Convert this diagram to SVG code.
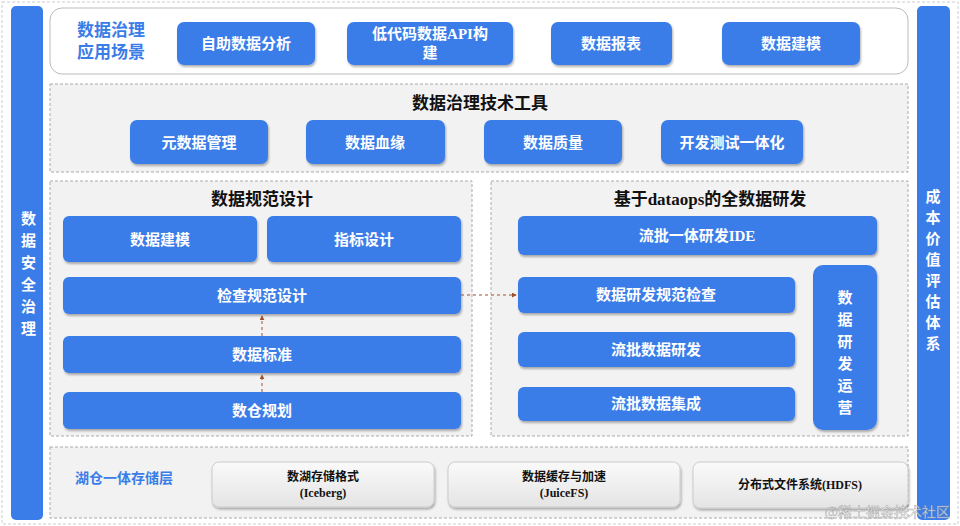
<svg xmlns="http://www.w3.org/2000/svg" width="960" height="526" viewBox="0 0 960 526">
<defs>
<style>
.b{fill:#3b7de8;}
.n rect{fill:#3b7de8;filter:url(#sh);}
.t{font-family:"Liberation Serif","Noto Sans CJK SC",serif;font-weight:bold;font-size:15px;fill:#fff;text-anchor:middle;dominant-baseline:central;}
.h{font-family:"Liberation Serif","Noto Sans CJK SC",serif;font-weight:bold;font-size:17px;fill:#111;text-anchor:middle;dominant-baseline:central;}
.sec{fill:#f2f2f2;stroke:#aaa;stroke-dasharray:3 2;}
.g rect{fill:url(#gg);stroke:#ccc;filter:url(#sh);}
.gt{font-family:"Liberation Serif","Noto Sans CJK SC",serif;font-weight:bold;font-size:12px;fill:#111;text-anchor:middle;}
.c{stroke:#a0522d;stroke-width:1;stroke-dasharray:3 3;fill:none;marker-end:url(#ar);}
</style>
<filter id="sh" x="-10%" y="-10%" width="120%" height="130%"><feDropShadow dx="1" dy="2" stdDeviation="1.2" flood-color="#000" flood-opacity="0.3"/></filter>
<linearGradient id="gg" x1="0" y1="0" x2="0" y2="1"><stop offset="0" stop-color="#fafafa"/><stop offset="1" stop-color="#e4e4e4"/></linearGradient>
<marker id="ar" viewBox="0 0 6 6" refX="5" refY="3" markerWidth="5" markerHeight="5" orient="auto"><path d="M0,0L6,3L0,6z" fill="#a0522d"/></marker>
</defs>
<rect x="0" y="0" width="960" height="526" fill="#fff"/>
<rect x="2" y="2" width="956" height="522" fill="none" stroke="#ccc" stroke-dasharray="3 2"/>
<g id="left-bar"><rect class="b" x="11" y="6" width="32" height="514" rx="5"/>
<text class="t" x="27" y="263" style="writing-mode:tb" ><tspan x="27" y="218">数</tspan><tspan x="27" y="240">据</tspan><tspan x="27" y="262">安</tspan><tspan x="27" y="284">全</tspan><tspan x="27" y="306">治</tspan><tspan x="27" y="328">理</tspan></text></g>
<g id="right-bar"><rect class="b" x="917" y="6" width="33" height="514" rx="5"/>
<text class="t" font-size="14"><tspan x="933" y="197">成</tspan><tspan x="933" y="218">本</tspan><tspan x="933" y="239">价</tspan><tspan x="933" y="260">值</tspan><tspan x="933" y="281">评</tspan><tspan x="933" y="302">估</tspan><tspan x="933" y="323">体</tspan><tspan x="933" y="344">系</tspan></text></g>
<g id="app">
<rect x="50" y="8" width="858" height="66" rx="12" fill="#fff" stroke="#bbb"/>
<text class="h" style="fill:#3b7de8" x="111" y="30">数据治理</text>
<text class="h" style="fill:#3b7de8" x="111" y="52">应用场景</text>
<g class="n"><rect x="177" y="22" width="138" height="43" rx="7"/><text class="t" x="246" y="44">自助数据分析</text></g>
<g class="n"><rect x="347" y="22" width="166" height="43" rx="7"/><text class="t" x="430" y="34">低代码数据API构</text><text class="t" x="430" y="53">建</text></g>
<g class="n"><rect x="551" y="22" width="121" height="43" rx="7"/><text class="t" x="611" y="44">数据报表</text></g>
<g class="n"><rect x="722" y="22" width="138" height="43" rx="7"/><text class="t" x="791" y="44">数据建模</text></g>
</g>
<g id="tools">
<rect class="sec" x="50" y="84" width="858" height="88"/>
<text class="h" x="480" y="103">数据治理技术工具</text>
<g class="n"><rect x="130" y="120" width="138" height="44" rx="7"/><text class="t" x="199" y="143">元数据管理</text></g>
<g class="n"><rect x="306" y="120" width="139" height="44" rx="7"/><text class="t" x="375" y="143">数据血缘</text></g>
<g class="n"><rect x="484" y="120" width="138" height="44" rx="7"/><text class="t" x="553" y="143">数据质量</text></g>
<g class="n"><rect x="661" y="120" width="142" height="44" rx="7"/><text class="t" x="732" y="143">开发测试一体化</text></g>
</g>
<g id="spec">
<rect class="sec" x="50" y="181" width="422" height="255"/>
<text class="h" x="262" y="199">数据规范设计</text>
<g class="n"><rect x="63" y="216" width="194" height="46" rx="6"/><text class="t" x="160" y="240">数据建模</text></g>
<g class="n"><rect x="267" y="216" width="194" height="46" rx="6"/><text class="t" x="364" y="240">指标设计</text></g>
<g class="n"><rect x="63" y="277" width="398" height="37" rx="6"/><text class="t" x="262" y="296">检查规范设计</text></g>
<g class="n"><rect x="63" y="336" width="398" height="37" rx="6"/><text class="t" x="262" y="355">数据标准</text></g>
<g class="n"><rect x="63" y="392" width="398" height="37" rx="6"/><text class="t" x="262" y="411">数仓规划</text></g>
</g>
<g id="dev">
<rect class="sec" x="491" y="181" width="417" height="255"/>
<text class="h" x="710" y="199">基于dataops的全数据研发</text>
<g class="n"><rect x="518" y="216" width="359" height="39" rx="6"/><text class="t" x="697" y="236">流批一体研发IDE</text></g>
<g class="n"><rect x="518" y="277" width="277" height="36" rx="6"/><text class="t" x="656" y="295">数据研发规范检查</text></g>
<g class="n"><rect x="518" y="332" width="277" height="35" rx="6"/><text class="t" x="656" y="350">流批数据研发</text></g>
<g class="n"><rect x="518" y="387" width="277" height="34" rx="6"/><text class="t" x="656" y="404">流批数据集成</text></g>
<g class="n"><rect x="813" y="265" width="64" height="165" rx="10"/><text class="t"><tspan x="845" y="298">数</tspan><tspan x="845" y="320">据</tspan><tspan x="845" y="342">研</tspan><tspan x="845" y="364">发</tspan><tspan x="845" y="386">运</tspan><tspan x="845" y="408">营</tspan></text></g>
</g>
<g id="storage">
<rect class="sec" x="50" y="447" width="858" height="71"/>
<text class="h" style="fill:#3b7de8;font-size:14px" x="124" y="478">湖仓一体存储层</text>
<g class="g"><rect x="212" y="462" width="222" height="45" rx="7"/><text class="gt" x="323" y="481">数湖存储格式</text><text class="gt" x="323" y="497">(Iceberg)</text></g>
<g class="g"><rect x="448" y="462" width="232" height="45" rx="7"/><text class="gt" x="564" y="481">数据缓存与加速</text><text class="gt" x="564" y="497">(JuiceFS)</text></g>
<g class="g"><rect x="693" y="462" width="215" height="46" rx="7"/><text class="gt" x="800" y="489">分布式文件系统(HDFS)</text></g>
</g>
<g id="connectors">
<path class="c" d="M461,295H516"/>
<path class="c" d="M262,392V375"/>
<path class="c" d="M262,336V316"/>
</g>
<text x="950" y="517" text-anchor="end" font-family="Noto Sans CJK SC,sans-serif" font-size="14" fill="#fff" stroke="#999" stroke-width="0.5" opacity="0.8">@稀土掘金技术社区</text>
</svg>
